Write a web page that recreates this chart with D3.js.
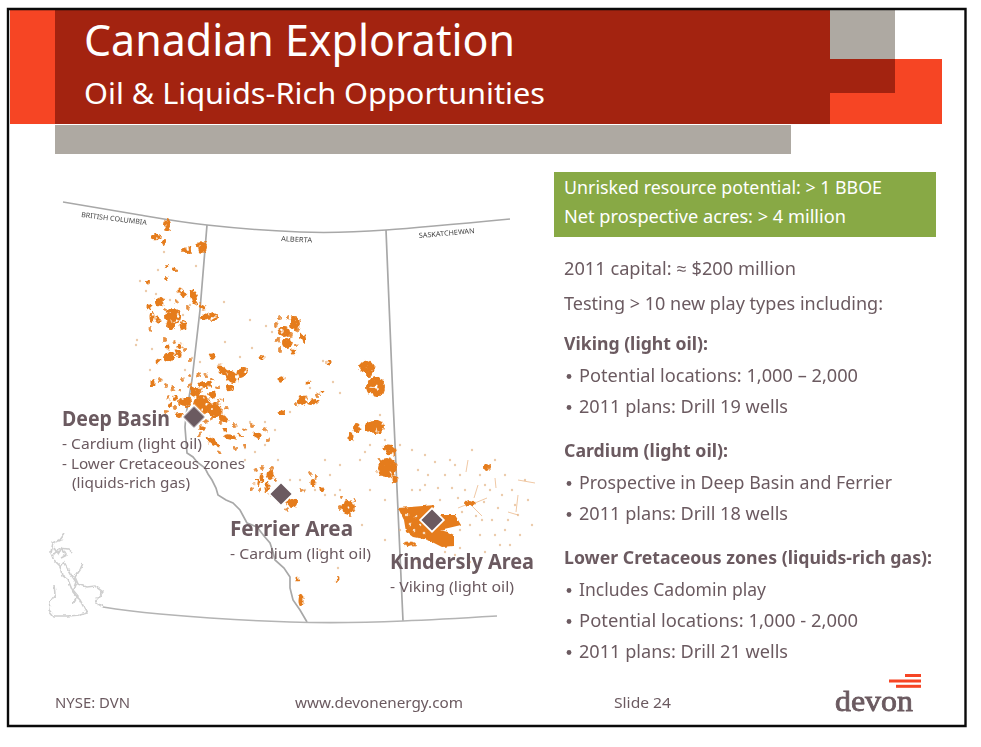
<!DOCTYPE html>
<html>
<head>
<meta charset="utf-8">
<title>Canadian Exploration</title>
<script src="https://cdnjs.cloudflare.com/ajax/libs/d3/7.8.5/d3.min.js"></script>
<style>
  html, body { margin: 0; padding: 0; background: #fff; }
  svg { display: block; }
  text { font-family: "Noto Sans", "Open Sans", sans-serif; }
</style>
</head>
<body>
<svg id="slide" width="981" height="747"></svg>
<script>
'use strict';

var title = "Canadian Exploration";
var subtitle = "Oil & Liquids-Rich Opportunities";
var highlights = ["Unrisked resource potential: > 1 BBOE", "Net prospective acres: > 4 million"];
var bodyLines = [
  "2011 capital: \u2248 $200 million",
  "Testing > 10 new play types including:",
  "Viking (light oil):",
  "Potential locations: 1,000 \u2013 2,000",
  "2011 plans: Drill 19 wells",
  "Cardium (light oil):",
  "Prospective in Deep Basin and Ferrier",
  "2011 plans: Drill 18 wells",
  "Lower Cretaceous zones (liquids-rich gas):",
  "Includes Cadomin play",
  "Potential locations: 1,000 - 2,000",
  "2011 plans: Drill 21 wells"
];
var footer = ["NYSE: DVN", "www.devonenergy.com", "Slide 24"];
var provinces = ["BRITISH COLUMBIA", "ALBERTA", "SASKATCHEWAN"];
var areaNames = ["Deep Basin", "Ferrier Area", "Kindersly Area"];
var areaNotes = [
  ["- Cardium (light oil)", "- Lower Cretaceous zones", "(liquids-rich gas)"],
  ["- Cardium (light oil)"],
  ["- Viking (light oil)"]
];

// map units: easting, northing
var areaSites = [[154, 227], [241, 304], [392, 330]];

// easting, northing, half extents, tilt
var plays = [
  [127,35,4,6,0],[116,47,5,3,-15],[124,52,2,3,0],[147,60,5,4,0],[162,57,6,6,0],
  [127,77,2.5,1.5,-30],[135,79,2,2,30],[126,88,2,2,0],[108,92,2,2.5,0],[142,103,6,2.5,45],
  [154,107,3.5,8,-15],[120,111,5,5,-20],[162,117,3.5,2,30],[109,117,2.5,2.5,0],[133,126,8,8,20],
  [112,127,2.5,5,0],[118,129,2.5,3.5,-20],[143,135,3.5,5,0],[131,136,5,4,0],[165,127,4,3.5,0],
  [173,127,5,4,0],[129,167,6,5,-20],[138,163,5,3,30],[140,156,2.5,2.5,0],[128,157,2.5,2.5,0],
  [118,171,2.5,2,-30],[172,166,3.5,3.5,30],[183,180,7,3.5,45],[192,187,7,5,45],[202,183,6,4.5,-30],
  [190,198,4,3,-20],[241,189,3.5,2.5,-20],[222,168,2.5,2,0],[113,193,2.5,4,0],
  [162,215,9,10,0],[175,220,7,7,0],[145,212,7,5,0],[155,202,5,6,0],[165,195,7,4,0],
  [140,225,5,3,0],[172,205,4,4,0],[135,208,3,3,0],[130,215,3,3,0],
  [173,252,8,3.5,45],[183,228,6,3.5,30],[190,247,6,2.5,10],[217,245,5,3.5,30],[242,223,4,2.5,0],
  [200,245,4,1.5,0],[185,240,3,2.5,0],[162,238,4,2.5,20],
  [230,285,3.5,5,0],[222,287,2.5,4,0],[227,297,2.5,5,0],[217,293,2.5,4,0],[252,313,6,5,0],
  [262,210,5,5,0],[273,212,6,2.5,-15],
  [255,133,5,7,0],[244,142,6,5,0],[247,153,5,5,0],[263,148,2.5,5,-20],[253,162,2.5,2.5,0],
  [327,177,8,7,30],[329,183,3,4,0],[336,197,9,10,-10],[289,173,2.5,2.5,0],[268,192,2.5,1.5,0],[282,202,2.5,1.5,0],
  [335,237,10,7,0],[317,238,4,4,0],[311,247,2.5,4,0],[350,260,7,5,30],[347,278,10,10,0],[355,289,2.5,4,0],
  [273,293,2.5,4,0],[308,317,7,7,0],[282,299,2.5,2.5,0],[430,313,5,3,0],[447,277,3,4,0],
  [261,410,2.5,7,0],[258,389,1.5,2.5,0],[298,389,1.5,2,0],[370,354,6,2.5,0]
];

// small patches around the main plays
var patches = [
  [120,190],[126,195],[133,198],[142,190],[150,186],[158,185],[165,186],[172,190],[178,197],[182,210],
  [186,218],[150,195],[160,200],[168,205],[178,212],[140,200],[128,208],[135,218],[126,222],[148,228],
  [166,232],[172,228],[180,232],[195,236],[205,240],[212,235],[225,240],[228,250],[205,255],[195,258],
  [180,262],[160,245],[216,280],[222,278],[232,278],[236,290],[212,300],[220,300],[230,305],[238,312],
  [246,320],[262,300],[270,283],[276,287],[240,128],[236,135],[248,128],[250,145],[258,140],[238,150],
  [256,155],[240,160],[125,150],[134,152],[145,160],[150,170],[110,140],[125,120],[148,118],[136,112],
  [340,270],[355,275],[342,285],[302,307],[315,310],[310,325],[300,318],[278,205],[256,215]
];

// faint wells: easting, northing
var specks = [
  [124,62],[156,76],[118,80],[100,91],[106,101],[116,104],[130,110],[150,115],[184,112],[210,130],
  [143,125],[97,150],[112,159],[152,168],[110,180],[122,190],[145,180],[160,172],[178,176],[226,136],
  [212,158],[200,167],[96,155],[185,152],[252,135],[232,142],[283,171],[293,192],[300,203],[270,198],
  [210,232],[225,232],[235,240],[250,222],[205,258],[215,262],[225,255],[260,290],[205,270],[238,270],
  [238,300],[265,300],[275,300],[285,305],[295,305],[300,300],[250,290],[320,270],[325,262],[330,255],
  [290,285],[300,275],[285,270],[340,225],[345,250],[360,255],[372,260],[385,265],[395,272],[410,270],
  [420,285],[432,260],[445,295],[455,270],[465,285],[472,300],[485,290],[378,280],[372,300],[385,295],
  [398,298],[412,298],[425,300],[440,345],[452,330],[465,340],[478,325],[488,310],[378,372],[392,365],
  [405,362],[420,358],[445,362],[460,355],[345,310],[330,300],[322,335],[305,345],[280,360],[298,378],
  [420,340],[436,326],[470,355],[458,318],[412,332],[422,322],[444,312],[380,300],[360,340],[345,350],
  [405,285],[415,275],[440,285],[450,300],[462,305],[475,315],[430,335],[442,330],[455,345],[468,330],
  [405,350],[415,365],[430,372],[388,285],[400,310],[418,308],[480,345],[492,335]
];

// thin lease strips: from easting, northing to easting, northing
var strips = [
  [428,270,426,282],[478,290,495,293],[438,295,434,308],[447,308,430,315],[432,316,442,326],
  [478,305,476,322],[468,322,478,325],[418,318,428,314],[455,288,456,298]
];

var kindersleyOutline = [
  [358,318],[395,315],[390,325],[415,325],[421,335],[400,340],[408,342],[414,345],
  [414,356],[402,357],[388,350],[373,347],[366,342],[364,330]
];
var kindersleyGaps = [[370,334],[376,327],[384,343],[374,341],[380,335],[367,325]];

var northBorder = [[23,12],[100,25],[167,35],[260,42],[346,40],[470,29]];
var bcAlbertaBorder = [
  [167,35],[160,120],[152,190],[146,225],[145,237],[147,263],[153,267],[157,272],[165,278],[168,284],[172,290],
  [176,298],[178,305],[186,310],[193,313],[200,320],[207,333],[217,337],[224,346],[230,353],[233,362],
  [235,370],[244,378],[250,387],[250,398],[253,410],[260,420],[267,432]
];
var albertaSaskBorder = [[346,40],[353,210],[363,431]];
var southBorder = [[63,417],[120,424],[250,432],[363,431],[457,426]];
var coastInlets = [
  [[25,343],[20,350],[13,353],[11,362],[14,370],[20,376],[22,385],[28,390],[33,402],[40,410],[47,423],[40,425],[28,426],[14,426],[9,420],[10,412],[15,405],[14,395]],
  [[43,373],[40,380],[35,387],[38,394],[47,397],[55,396],[63,402],[58,408],[55,412],[63,417]],
  [[13,365],[20,358],[28,359],[33,363]],
  [[20,378],[24,372],[30,383],[36,392],[33,400],[38,406],[33,414]],
  [[14,358],[18,364],[22,358],[26,365],[20,368]]
];

var width = 981, height = 747;
var svg = d3.select("#slide");

var mapX = d3.scaleLinear().domain([0, 490]).range([40, 530]);
var mapY = d3.scaleLinear().domain([0, 450]).range([190, 640]);
var mapK = d3.scaleLinear().domain([0, 1]).range([0, 1]);

var INK = "#6b5a60", ORANGE = "#e57c1c";

function addRect(x, y, w, h, fill) {
  return svg.append("rect").attr("x", x).attr("y", y).attr("width", w).attr("height", h).attr("fill", fill);
}

// every string is fitted to the width it has in the slide
function addText(g, str, x, y, size, len, fill, weight) {
  return g.append("text")
    .attr("x", x).attr("y", y)
    .attr("font-size", size)
    .attr("font-weight", weight || 400)
    .attr("fill", fill)
    .attr("textLength", len)
    .attr("lengthAdjust", "spacingAndGlyphs")
    .text(str);
}

// header blocks
addRect(10, 10, 45, 114, "#f64524");
addRect(55, 10, 775, 114, "#a32310");
addRect(830, 10, 65, 49, "#aea9a2");
addRect(830, 59, 112, 65, "#f64524");
addRect(830, 59, 65, 34, "#a32310");
addRect(55, 125, 736, 29, "#aea9a2");
addRect(554, 172, 382, 65, "#88a945");

var top_g = svg.append("g");
addText(top_g, title, 84, 56, 43, 431, "#fff");
addText(top_g, subtitle, 84, 104, 29, 461, "#fff");
addText(top_g, highlights[0], 564, 194, 17.5, 318, "#fff");
addText(top_g, highlights[1], 564, 223, 17.5, 282, "#fff");

// map
var defs = svg.append("defs");
defs.append("filter").attr("id", "soft")
  .append("feGaussianBlur").attr("stdDeviation", 0.5);

// frayed, lightly pitted edge of the scanned map
var rough = defs.append("filter").attr("id", "rough")
  .attr("filterUnits", "userSpaceOnUse")
  .attr("x", 0).attr("y", 0).attr("width", width).attr("height", height)
  .attr("color-interpolation-filters", "sRGB");
rough.append("feTurbulence").attr("type", "fractalNoise").attr("baseFrequency", 0.2)
  .attr("numOctaves", 2).attr("seed", 4).attr("result", "noise");
rough.append("feDisplacementMap").attr("in", "SourceGraphic").attr("in2", "noise")
  .attr("scale", 6).attr("xChannelSelector", "R").attr("yChannelSelector", "G").attr("result", "moved");
rough.append("feColorMatrix").attr("in", "noise").attr("type", "matrix")
  .attr("values", "0 0 0 0 0  0 0 0 0 0  0 0 0 0 0  8 0 0 0 -2").attr("result", "pits");
rough.append("feComposite").attr("in", "moved").attr("in2", "pits").attr("operator", "in").attr("result", "cut");
rough.append("feGaussianBlur").attr("in", "cut").attr("stdDeviation", 0.55);

// same edge without pits, for the solid Viking block
var frayed = defs.append("filter").attr("id", "frayed")
  .attr("filterUnits", "userSpaceOnUse")
  .attr("x", 0).attr("y", 0).attr("width", width).attr("height", height)
  .attr("color-interpolation-filters", "sRGB");
frayed.append("feTurbulence").attr("type", "fractalNoise").attr("baseFrequency", 0.25)
  .attr("numOctaves", 2).attr("seed", 7).attr("result", "noise");
frayed.append("feDisplacementMap").attr("in", "SourceGraphic").attr("in2", "noise")
  .attr("scale", 3).attr("xChannelSelector", "R").attr("yChannelSelector", "G").attr("result", "moved");
frayed.append("feGaussianBlur").attr("in", "moved").attr("stdDeviation", 0.45);

var wobble = defs.append("filter").attr("id", "wobble")
  .attr("filterUnits", "userSpaceOnUse")
  .attr("x", 0).attr("y", 0).attr("width", width).attr("height", height)
  .attr("color-interpolation-filters", "sRGB");
wobble.append("feTurbulence").attr("type", "fractalNoise").attr("baseFrequency", 0.18)
  .attr("numOctaves", 2).attr("seed", 9).attr("result", "noise");
wobble.append("feDisplacementMap").attr("in", "SourceGraphic").attr("in2", "noise")
  .attr("scale", 4).attr("xChannelSelector", "R").attr("yChannelSelector", "G").attr("result", "moved");
wobble.append("feGaussianBlur").attr("in", "moved").attr("stdDeviation", 0.5);

var straight = d3.line().x(function(d) { return mapX(d[0]); }).y(function(d) { return mapY(d[1]); });
var curved = d3.line().x(function(d) { return mapX(d[0]); }).y(function(d) { return mapY(d[1]); }).curve(d3.curveNatural);

var map_g = svg.append("g").attr("filter", "url(#soft)");

svg.insert("g", "g").attr("filter", "url(#wobble)").selectAll(".coast")
  .data(coastInlets)
.enter().append("path")
  .attr("class", "coast")
  .attr("d", straight)
  .attr("fill", "none").attr("stroke", "#cecece").attr("stroke-width", 1.6);

map_g.append("path").attr("d", curved(northBorder))
  .attr("fill", "none").attr("stroke", "#a8a8a8").attr("stroke-width", 1.5);
map_g.append("path").attr("d", straight(bcAlbertaBorder))
  .attr("fill", "none").attr("stroke", "#a8a8a8").attr("stroke-width", 1.7);
map_g.append("path").attr("d", straight(albertaSaskBorder))
  .attr("fill", "none").attr("stroke", "#a8a8a8").attr("stroke-width", 1.7);
map_g.append("path").attr("d", curved(southBorder))
  .attr("fill", "none").attr("stroke", "#b4b4b4").attr("stroke-width", 1.6);

map_g.selectAll(".speck")
  .data(specks)
.enter().append("circle")
  .attr("class", "speck")
  .attr("cx", function(d) { return mapX(d[0]); })
  .attr("cy", function(d) { return mapY(d[1]); })
  .attr("r", 1.2)
  .attr("fill", "#e6b98d").attr("opacity", 0.75);

map_g.selectAll(".strip")
  .data(strips)
.enter().append("line")
  .attr("class", "strip")
  .attr("x1", function(d) { return mapX(d[0]); })
  .attr("y1", function(d) { return mapY(d[1]); })
  .attr("x2", function(d) { return mapX(d[2]); })
  .attr("y2", function(d) { return mapY(d[3]); })
  .attr("stroke", "#e8ab74").attr("stroke-width", 1).attr("opacity", 0.65);

var play_g = svg.append("g").attr("filter", "url(#rough)");

play_g.selectAll(".patch")
  .data(patches)
.enter().append("circle")
  .attr("class", "patch")
  .attr("cx", function(d) { return mapX(d[0]); })
  .attr("cy", function(d) { return mapY(d[1]); })
  .attr("r", 2)
  .attr("fill", "#e88f3f");

play_g.selectAll(".play")
  .data(plays)
.enter().append("ellipse")
  .attr("class", "play")
  .attr("transform", function(d) {
    return "translate(" + mapX(d[0]) + "," + mapY(d[1]) + ") rotate(" + d[4] + ")";
  })
  .attr("rx", function(d) { return mapK(d[2]); })
  .attr("ry", function(d) { return mapK(d[3]); })
  .attr("fill", ORANGE);

var viking_g = svg.append("g").attr("filter", "url(#frayed)");

viking_g.append("path")
  .attr("d", straight(kindersleyOutline) + "Z")
  .attr("fill", ORANGE);

viking_g.selectAll(".gap")
  .data(kindersleyGaps)
.enter().append("circle")
  .attr("class", "gap")
  .attr("cx", function(d) { return mapX(d[0]); })
  .attr("cy", function(d) { return mapY(d[1]); })
  .attr("r", 1.3)
  .attr("fill", "#f7dcc0");

// province names sit on the map, slightly turned with the border
var provinceAt = [[41, 27, 7, 66], [241, 51, 3, 31], [379, 48, -5, 56]];
map_g.selectAll(".province")
  .data(provinces)
.enter().append("text")
  .attr("class", "province")
  .attr("transform", function(d, i) {
    return "translate(" + mapX(provinceAt[i][0]) + "," + mapY(provinceAt[i][1]) + ") rotate(" + provinceAt[i][2] + ")";
  })
  .attr("font-size", 7)
  .attr("fill", "#444")
  .attr("textLength", function(d, i) { return provinceAt[i][3]; })
  .attr("lengthAdjust", "spacingAndGlyphs")
  .text(function(d) { return d; });

// area markers
var diamond = d3.symbol().type(d3.symbolSquare).size(280);
svg.selectAll(".site")
  .data(areaSites)
.enter().append("path")
  .attr("class", "site")
  .attr("d", diamond)
  .attr("transform", function(d) {
    return "translate(" + mapX(d[0]) + "," + mapY(d[1]) + ") rotate(45) ";
  })
  .attr("fill", INK)
  .attr("stroke", "#fff")
  .attr("stroke-width", 1.8);

// area captions
var label_g = svg.append("g");
var nameAt = [[62, 426, 108], [230, 536, 123], [390, 569, 144]];
var noteAt = [
  [[62, 449, 140], [62, 469, 183], [72, 488, 118]],
  [[230, 559, 141]],
  [[390, 592, 124]]
];
areaNames.forEach(function(name, i) {
  addText(label_g, name, nameAt[i][0], nameAt[i][1], 20.5, nameAt[i][2], INK, 700);
  areaNotes[i].forEach(function(note, j) {
    addText(label_g, note, noteAt[i][j][0], noteAt[i][j][1], 14.5, noteAt[i][j][2], INK);
  });
});

// right column
var body_g = svg.append("g");
var bodyAt = [
  {y: 275, w: 232}, {y: 310, w: 319}, {y: 350, w: 144, bold: true},
  {y: 382, w: 279, bullet: true}, {y: 413, w: 209, bullet: true},
  {y: 457, w: 164, bold: true},
  {y: 489, w: 313, bullet: true}, {y: 520, w: 209, bullet: true},
  {y: 564, w: 368, bold: true},
  {y: 596, w: 187, bullet: true}, {y: 627, w: 279, bullet: true}, {y: 658, w: 209, bullet: true}
];
bodyLines.forEach(function(str, i) {
  var at = bodyAt[i];
  if (at.bullet) {
    body_g.append("circle").attr("cx", 569).attr("cy", at.y - 5.5).attr("r", 2.4).attr("fill", INK);
  }
  addText(body_g, str, at.bullet ? 579 : 564, at.y, at.bold ? 17 : 17.5, at.w, INK, at.bold ? 700 : 400);
});

// footer
var foot_g = svg.append("g");
addText(foot_g, footer[0], 55, 708, 14, 75, INK);
addText(foot_g, footer[1], 295, 708, 14, 168, INK);
addText(foot_g, footer[2], 614, 708, 14, 57, INK);

// logo
addRect(905, 674, 16, 3, "#f64524");
addRect(889, 679.5, 32, 3, "#f64524");
addRect(896, 684.8, 25, 3, "#f64524");
foot_g.append("text")
  .attr("x", 835).attr("y", 711)
  .attr("font-size", 30)
  .style("font-family", "'Liberation Serif', serif")
  .attr("fill", INK)
  .attr("stroke", INK).attr("stroke-width", 0.8)
  .attr("textLength", 78)
  .attr("lengthAdjust", "spacingAndGlyphs")
  .text("devon");

// slide frame
svg.append("path")
  .attr("d", "M8,9H965.5V726H8Z")
  .attr("fill", "none")
  .attr("stroke", "#0a0a0a")
  .attr("stroke-width", 2.4);
</script>
</body>
</html>
